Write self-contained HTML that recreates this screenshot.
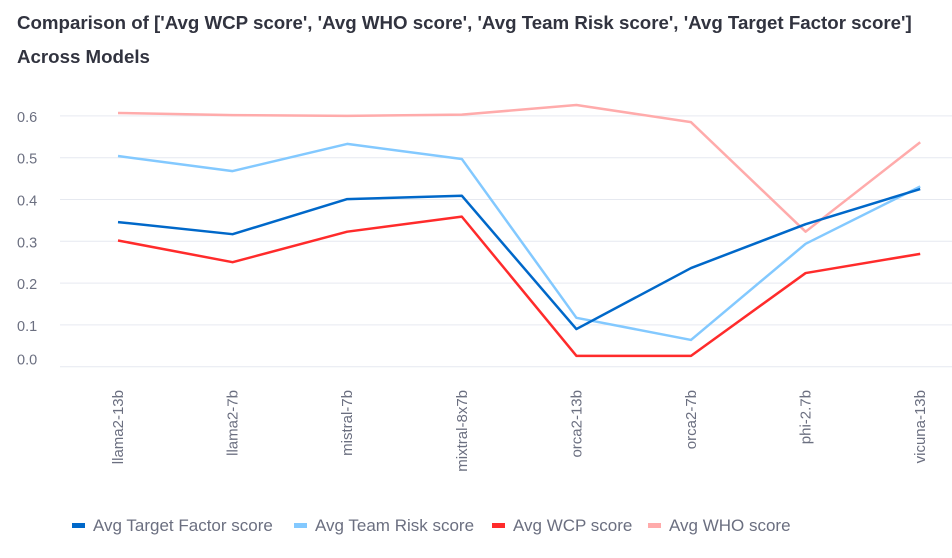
<!DOCTYPE html>
<html><head><meta charset="utf-8"><style>
html,body{margin:0;padding:0;background:#fff;width:952px;height:558px;overflow:hidden}
svg{display:block;font-family:"Liberation Sans",sans-serif}
</style></head><body>
<svg id="chart" width="952" height="558" viewBox="0 0 952 558">
<text x="17" y="29" font-size="18.7" font-weight="bold" fill="#31333f">Comparison of ['Avg WCP score', 'Avg WHO score', 'Avg Team Risk score', 'Avg Target Factor score']</text>
<text x="17" y="63" font-size="18.7" font-weight="bold" fill="#31333f">Across Models</text>
<g id="grid"></g><g id="ylabels"></g><g id="xlabels"></g><g id="lines"></g><g id="legend"></g>
</svg>
<script>
const categories=["llama2-13b","llama2-7b","mistral-7b","mixtral-8x7b","orca2-13b","orca2-7b","phi-2.7b","vicuna-13b"];
const targetFactor=[0.346,0.317,0.401,0.409,0.090,0.236,0.341,0.425];
const teamRisk=[0.504,0.468,0.533,0.497,0.117,0.064,0.294,0.431];
const wcp=[0.302,0.250,0.323,0.359,0.026,0.026,0.224,0.270];
const who=[0.607,0.602,0.600,0.603,0.626,0.585,0.323,0.537];
const yTicks=[0,0.1,0.2,0.3,0.4,0.5,0.6];
const yTickLabels=["0.0","0.1","0.2","0.3","0.4","0.5","0.6"];
const NS="http://www.w3.org/2000/svg";
const y=v=>366.7-v*418;
const x=i=>118+i*114.6;
function mk(tag,attrs,parent){const e=document.createElementNS(NS,tag);for(const k in attrs)e.setAttribute(k,attrs[k]);parent.appendChild(e);return e;}
const grid=document.getElementById('grid'),yl=document.getElementById('ylabels'),xl=document.getElementById('xlabels'),lines=document.getElementById('lines'),leg=document.getElementById('legend');
yTicks.forEach((t,i)=>{
 const l=mk('line',{x1:60,x2:952,y1:y(t),y2:y(t),stroke:'#e6e9f0','stroke-width':1},grid);
 
 
 const ty=i===0?y(t)-2:y(t)+6;
 const tx=mk('text',{x:17,y:ty,'font-size':14.5,fill:'#6b6f80'},yl);
 tx.textContent=yTickLabels[i];
 
 
});
categories.forEach((c,i)=>{
 const t=mk('text',{transform:`translate(${x(i)+5},390) rotate(-90)`,'text-anchor':'end','font-size':15,fill:'#6b6f80'},xl);
 t.textContent=c;
 
 
});
const series=[["Avg Target Factor score",targetFactor,"#0068c9",72],["Avg Team Risk score",teamRisk,"#83c9ff",294],["Avg WCP score",wcp,"#ff2b2b",492],["Avg WHO score",who,"#ffabab",648]];
[3,1,0,2].forEach(si=>{
 const [name,vals,col]=series[si];
 const p=mk('polyline',{points:vals.map((v,i)=>x(i)+','+y(v)).join(' '),fill:'none',stroke:col,'stroke-width':2.5,'stroke-linejoin':'round'},lines);
 
 
});
series.forEach(([name,vals,col,lx])=>{
 const r=mk('rect',{x:lx,y:523,width:13,height:5,fill:col},leg);
 
 
 const t=mk('text',{x:lx+21,y:531,'font-size':17,fill:'#6b6f80'},leg);
 t.textContent=name;
 
 
});
</script>
</body></html>
